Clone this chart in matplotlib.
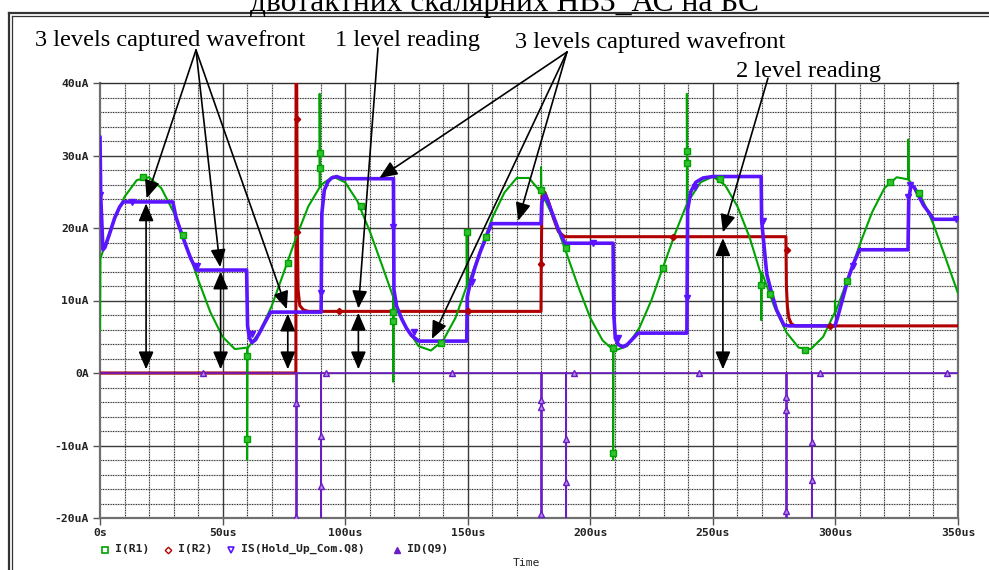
import numpy as np
import matplotlib
matplotlib.use("Agg")
import matplotlib.pyplot as plt
from matplotlib.lines import Line2D

# ---------------- data ----------------
title_text = "двотактних скалярних НВЗ_АС на БС"
series_names = ["I(R1)", "I(R2)", "IS(Hold_Up_Com.Q8)", "ID(Q9)"]
x_ticks = [0, 50, 100, 150, 200, 250, 300, 350]
x_tick_labels = ["0s", "50us", "100us", "150us", "200us", "250us", "300us", "350us"]
y_ticks = [-20, -10, 0, 10, 20, 30, 40]
y_tick_labels = ["-20uA", "-10uA", "0A", "10uA", "20uA", "30uA", "40uA"]

# I(R1): sampled sine-like input (uA) every 5 us
green_t = list(range(0, 355, 5))
green_v = [15.8, 20.5, 24.3, 26.6, 27.0, 25.5, 22.2, 17.8, 12.9, 8.4,
           5.0, 3.3, 3.5, 5.6, 9.2, 13.9, 18.7, 23.0, 25.9, 27.1,
           26.3, 23.7, 19.6, 14.9, 10.1, 6.2, 3.7, 3.1, 4.5, 7.6,
           12.0, 16.8, 21.4, 24.9, 26.9, 26.9, 24.9, 21.4, 16.8, 12.0,
           7.6, 4.5, 3.1, 3.7, 6.2, 10.1, 14.9, 19.6, 23.7, 26.3,
           27.1, 25.9, 23.0, 18.7, 13.9, 9.2, 5.6, 3.5, 3.3, 5.0,
           8.4, 12.9, 17.8, 22.2, 25.5, 27.0, 26.6, 24.3, 20.5, 15.8,
           11.0]
# switching spikes on I(R1)
green_spike_t = [0, 60, 89.6, 119.6, 149.6, 179.9, 209.3, 239.4, 269.7, 299.8, 329.7]
green_spike_base = [15.8, 3.4, 25.6, 10.5, 12.0, 24.9, 3.2, 23.3, 13.5, 8.4, 26.7]
green_spike_tip = [5.8, -12.0, 38.5, -1.2, 19.4, 28.4, -12.0, 38.5, 7.3, 10.0, 32.2]
green_mk_t = [17.7, 34, 60, 60, 76.8, 89.6, 89.6, 106.3, 119.6, 119.6, 139, 149.6, 157.3,
              179.9, 190, 209.3, 209.3, 229.8, 239.4, 239.4, 252.9, 269.6, 273.3, 287.6,
              304.6, 322.3, 334.2]
green_mk_v = [27.1, 19.0, -9.1, 2.4, 15.2, 30.4, 28.3, 23.0, 8.4, 7.2, 4.1, 19.4, 18.8,
              25.2, 17.3, 3.4, -11.1, 14.5, 30.6, 29.0, 26.7, 12.1, 10.9, 3.2,
              12.7, 26.4, 24.8]

# I(R2)
red_t = [0, 79.9, 80.0, 80.3, 80.5, 80.8, 81.5, 83, 85, 179.9, 180, 180.3, 181.5, 183,
         185, 187, 189.5, 279.8, 280, 280.4, 281, 282, 283.5, 350]
red_v = [0, 0, 60, 35, 19.4, 11.5, 9.3, 8.7, 8.5, 8.5, 15, 24.5, 24.9, 23.6,
         21.3, 19.5, 18.8, 18.8, 12, 9.2, 7.6, 6.8, 6.5, 6.5]
red_mk_t = [80.3, 80.5, 97.5, 150, 180, 233.8, 280.2, 297.8]
red_mk_v = [35, 19.4, 8.5, 8.5, 15, 18.8, 17, 6.5]

# IS(Hold_Up_Com.Q8)
blue_t = [0, 0.3, 1.2, 2, 4, 6, 8, 9.5,
          29.7, 31, 33, 35, 37, 39.4,
          59.8, 60.2, 61, 62, 63.5, 65, 67, 69.6,
          90.2, 90.5, 91.5, 93, 94.5, 96.5, 99,
          119.7, 119.9, 121, 123, 125, 127, 130,
          149.6, 149.8, 151, 153, 155, 157, 159.7,
          179.9, 180.2, 181.5, 183, 185, 187, 189.7,
          209.3, 209.6, 210.2, 211.5, 213.3, 215, 217, 219.5,
          239.4, 239.7, 241, 243, 246, 250,
          269.7, 269.9, 272, 274, 276, 279, 281,
          299.8, 301, 303, 305, 307, 309.8,
          329.6, 329.9, 330.8, 332, 334, 336, 338, 340, 350]
blue_v = [32.5, 24.5, 17.0, 17.3, 19.3, 21.4, 22.9, 23.6,
          23.6, 21.5, 19.5, 17.6, 15.8, 14.2,
          14.2, 6.5, 4.8, 4.2, 4.6, 5.5, 6.8, 8.4,
          8.4, 22.0, 25.2, 26.4, 26.9, 27.1, 26.8,
          26.8, 11.5, 9.2, 7.5, 6.2, 5.2, 4.4,
          4.4, 10.5, 12.3, 14.6, 16.6, 18.3, 20.6,
          20.6, 23.5, 24.6, 23.4, 21.6, 19.8, 17.9,
          17.9, 8.0, 4.8, 3.9, 3.6, 3.9, 4.6, 5.5,
          5.5, 22.5, 25.0, 26.3, 26.9, 27.1,
          27.1, 21.0, 13.6, 11.0, 8.7, 6.6, 6.5,
          6.5, 7.8, 10.3, 12.8, 14.8, 17.0,
          17.0, 24.0, 25.8, 25.7, 24.4, 23.1, 22.2, 21.2, 21.2]
blue_mk_t = [0.2, 12.9, 39.4, 62, 90.2, 119.7, 128, 151.6, 201, 211.3, 239.6, 242.7,
             270.5, 307.2, 329.8, 330.6, 349]
blue_mk_v = [24.6, 23.6, 14.7, 5.4, 11.1, 20.1, 5.6, 12.5, 17.9, 4.8, 10.3, 25.7,
             20.9, 14.8, 24.3, 26.0, 21.2]

# ID(Q9)
id_t = [0, 80, 80, 80.4, 80.4, 90.2, 90.2, 90.2, 180, 180, 180.4, 180.4, 190.1, 190.1,
        190.1, 279.9, 279.9, 280.3, 280.3, 290.3, 290.3, 290.3, 350]
id_v = [0, 0, -25, -25, 0, 0, -25, 0, 0, -25, -25, 0, 0, -25,
        0, 0, -25, -25, 0, 0, -25, 0, 0]
id_mk_t = [41.9, 80, 80, 90.2, 90.2, 92, 143.6, 180, 180, 180, 190.1, 190.1, 193.2, 244.3,
           279.9, 279.9, 279.9, 290.3, 290.3, 293.7, 345.5]
id_mk_v = [0, -4.1, -19.8, -8.7, -15.6, 0, 0, -3.7, -4.7, -19.5, -9.1, -15.0, 0, 0,
           -3.3, -5.1, -19.1, -9.5, -14.8, 0, 0]

# annotations: labels, and the level each arrow points to (t in us, value in uA)
label_texts = ["3 levels captured wavefront", "1 level reading",
               "3 levels captured wavefront", "2 level reading"]
arrow_targets = [[(19.0, 24.1), (49.0, 14.6), (76.2, 8.8)],
                 [(105.4, 8.9)],
                 [(114.0, 26.9), (135.4, 4.7), (170.6, 21.0)],
                 [(254.1, 19.4)]]
level_t = [18.8, 49.2, 76.6, 105.4, 254.1]
level_v = [23.4, 14.0, 8.2, 8.3, 18.6]

# ---------------- drawing ----------------
W, H = 989, 570
fig = plt.figure(figsize=(W / 100, H / 100), dpi=100)
fig.patch.set_facecolor("white")


def fpx(x, y):
    return (x / W, 1 - y / H)


ax = fig.add_axes([100 / W, (H - 518) / H, 858 / W, 435 / H])
ax.set_xlim(0, 350)
ax.set_ylim(-20, 40)

# grid
for x in range(10, 350, 10):
    if x % 50:
        ax.axvline(x, color="#c4c4c4", lw=1.0, zorder=0.5)
        ax.axvline(x, color="#202020", lw=0.7, ls=(0, (1, 1.6)), zorder=0.6)
for y in range(-18, 40, 2):
    if y % 10:
        ax.axhline(y, color="#c4c4c4", lw=1.0, zorder=0.5)
        ax.axhline(y, color="#202020", lw=0.7, ls=(0, (1, 1.6)), zorder=0.6)
for x in x_ticks[1:-1]:
    ax.axvline(x, color="#3a3a3a", lw=1.0, zorder=0.7)
for y in y_ticks[1:-1]:
    ax.axhline(y, color="#3a3a3a", lw=1.0, zorder=0.7)

GREEN = "#00a400"
RED = "#b00000"
BLUE = "#5a14ff"
PURP = "#6c1cc4"

# green with spikes merged in time order
gt = list(green_t)
gv = list(green_v)
for ts, b, tp in zip(green_spike_t, green_spike_base, green_spike_tip):
    gt += [ts, ts, ts + 0.15]
    gv += [b, tp, b]
order = np.argsort(np.array(gt), kind="stable")
gt = np.array(gt)[order]
gv = np.array(gv)[order]

ax.plot(red_t, red_v, color=RED, lw=2.2, zorder=3, solid_joinstyle="round")
ax.plot(gt, gv, color=GREEN, lw=1.5, zorder=4)
ax.plot(id_t, id_v, color=PURP, lw=1.2, zorder=5)
ax.plot(blue_t, blue_v, color=BLUE, lw=2.6, zorder=6, solid_joinstyle="round")

ax.plot(green_mk_t, green_mk_v, ls="none", marker="s", ms=4.2, mfc="#33c033",
        mec=GREEN, mew=1.0, zorder=7)
ax.plot(red_mk_t, red_mk_v, ls="none", marker="D", ms=3.2, mfc=RED, mec=RED, zorder=7)
ax.plot(blue_mk_t, blue_mk_v, ls="none", marker="v", ms=4.2, mfc=BLUE, mec=BLUE, zorder=7)
ax.plot(id_mk_t, id_mk_v, ls="none", marker="^", ms=4.0, mfc="#b48ae8", mec=PURP,
        mew=1.0, zorder=7)

# axes styling
ax.set_xticks(x_ticks)
ax.set_xticklabels(x_tick_labels)
ax.set_yticks(y_ticks)
ax.set_yticklabels(y_tick_labels)
ax.tick_params(axis="both", direction="out", length=5, width=1.0, color="#555555",
               labelsize=8.2, labelcolor="#222222")
ax.tick_params(axis="x", pad=2.5)
ax.tick_params(axis="y", pad=3)
for lab in ax.get_xticklabels() + ax.get_yticklabels():
    lab.set_fontfamily("DejaVu Sans Mono")
    lab.set_fontweight("bold")
for s in ["left", "bottom", "right"]:
    ax.spines[s].set_color("#707070")
    ax.spines[s].set_linewidth(1.6)
ax.spines["top"].set_color("#303030")
ax.spines["top"].set_linewidth(1.0)

# legend (PSpice style) and axis title
mono = dict(fontfamily="DejaVu Sans Mono", fontsize=8.2, color="#222222", va="center")
leg_marker_x = [104.5, 168, 231, 397]
leg_text_x = [115, 178, 241, 407]
leg_styles = [dict(marker="s", mfc="white", mec=GREEN, ms=4.2, mew=1.2),
              dict(marker="D", mfc="white", mec=RED, ms=3.3, mew=1.0),
              dict(marker="v", mfc="white", mec=BLUE, ms=4.5, mew=1.2),
              dict(marker="^", mfc=PURP, mec=PURP, ms=4.0, mew=1.0)]
for name, mx, tx, st in zip(series_names, leg_marker_x, leg_text_x, leg_styles):
    fig.add_artist(Line2D([mx / W], [1 - 549.5 / H], ls="none", **st))
    fig.text(tx / W, 1 - 549 / H, name, ha="left", fontweight="bold", **mono)
fig.text(513 / W, 1 - 562.5 / H, "Time", ha="left", **mono)

# outer double frame (top and left)
fc = "#333333"
fig.add_artist(Line2D([8.5 / W, 1.0], [1 - 12.5 / H, 1 - 12.5 / H], color=fc, lw=1.6))
fig.add_artist(Line2D([8.5 / W, 8.5 / W], [0, 1 - 12.5 / H], color=fc, lw=1.6))
fig.add_artist(Line2D([11.8 / W, 1.0], [1 - 15.6 / H, 1 - 15.6 / H], color=fc, lw=0.9))
fig.add_artist(Line2D([11.8 / W, 11.8 / W], [0, 1 - 15.6 / H], color=fc, lw=0.9))

# title (cropped at top in the reference)
fig.text(505 / W, 1 - 11 / H, title_text, ha="center", va="baseline",
         fontfamily="Liberation Serif", fontsize=22.7, color="black")

# text labels
serif = dict(fontfamily="Liberation Serif", fontsize=17.6, color="black", va="baseline",
             ha="left")
label_pos = [(35, 46), (335, 46), (515, 48), (736, 77)]
arrow_src = [(196, 50), (378, 48), (567, 52), (768, 78)]
for txt, (lx, ly) in zip(label_texts, label_pos):
    fig.text(lx / W, 1 - ly / H, txt, **serif)

arrow_style = "-|>,head_length=0.4,head_width=0.17"
for src, targets in zip(arrow_src, arrow_targets):
    for (tt, tv) in targets:
        ax.annotate("", xy=(tt, tv), xycoords="data",
                    xytext=fpx(*src), textcoords="figure fraction",
                    arrowprops=dict(arrowstyle=arrow_style, mutation_scale=27, lw=1.2,
                                    color="black", shrinkA=0, shrinkB=0),
                    annotation_clip=False, zorder=9)

dbl_style = "<|-|>,head_length=0.4,head_width=0.17"
for tt, tv in zip(level_t, level_v):
    ax.annotate("", xy=(tt, 0.5), xycoords="data", xytext=(tt, tv), textcoords="data",
                arrowprops=dict(arrowstyle=dbl_style, mutation_scale=27, lw=1.2,
                                color="black", shrinkA=0, shrinkB=0),
                annotation_clip=False, zorder=9)

fig.savefig("out.png", dpi=100, facecolor="white")
